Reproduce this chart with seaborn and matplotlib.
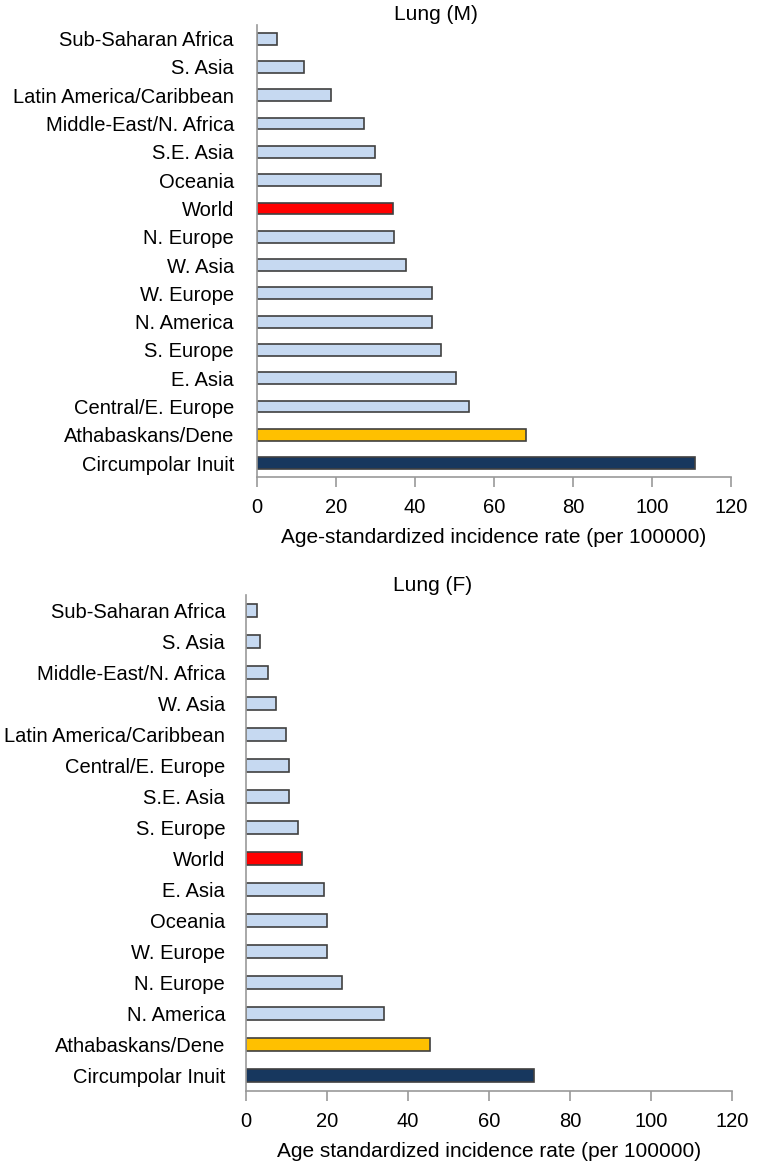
"""Lung cancer incidence by region, male and female panels."""

import matplotlib
import pandas as pd
import seaborn as sns

matplotlib.use("Agg")
import matplotlib.pyplot as plt

# Male panel (top to bottom)
male_regions = [
    "Sub-Saharan Africa", "S. Asia", "Latin America/Caribbean",
    "Middle-East/N. Africa", "S.E. Asia", "Oceania", "World", "N. Europe",
    "W. Asia", "W. Europe", "N. America", "S. Europe", "E. Asia",
    "Central/E. Europe", "Athabaskans/Dene", "Circumpolar Inuit",
]
male_rates = [5.0, 11.9, 18.8, 27.2, 29.8, 31.5, 34.4, 34.7,
              37.8, 44.2, 44.2, 46.5, 50.5, 53.7, 68.2, 110.9]

# Female panel (top to bottom)
female_regions = [
    "Sub-Saharan Africa", "S. Asia", "Middle-East/N. Africa", "W. Asia",
    "Latin America/Caribbean", "Central/E. Europe", "S.E. Asia", "S. Europe",
    "World", "E. Asia", "Oceania", "W. Europe", "N. Europe", "N. America",
    "Athabaskans/Dene", "Circumpolar Inuit",
]
female_rates = [2.6, 3.5, 5.4, 7.3, 9.9, 10.7, 10.7, 12.9,
                13.8, 19.3, 20.1, 20.1, 23.7, 34.0, 45.5, 71.2]

x_ticks = [0, 20, 40, 60, 80, 100, 120]

BASE = "#c6d9f1"
HIGHLIGHT = {"World": "#ff0000", "Athabaskans/Dene": "#ffc000",
             "Circumpolar Inuit": "#17375e"}


def palette_for(regions):
    return {r: HIGHLIGHT.get(r, BASE) for r in regions}


sns.set_theme(style="white")
plt.rcParams["font.family"] = ["Liberation Sans", "DejaVu Sans"]
plt.rcParams["text.color"] = "black"
plt.rcParams["axes.labelcolor"] = "black"
plt.rcParams["xtick.color"] = "black"
plt.rcParams["ytick.color"] = "black"

fig = plt.figure(figsize=(7.6, 11.67), dpi=100)
ax_m = fig.add_axes([0.338, 0.591, 0.624, 0.388])
ax_f = fig.add_axes([0.3237, 0.0651, 0.6391, 0.425])

panels = [
    (ax_m, male_regions, male_rates, "Lung (M)", 0.378, 10.5,
     "Age-standardized incidence rate (per 100000)"),
    (ax_f, female_regions, female_rates, "Lung (F)", 0.385, 9,
     "Age standardized incidence rate (per 100000)"),
]

for ax, regions, rates, title, title_x, ypad, xlabel in panels:
    df = pd.DataFrame({"region": regions, "rate": rates})
    sns.barplot(data=df, x="rate", y="region", hue="region", order=regions,
                palette=palette_for(regions), orient="h", width=0.42,
                saturation=1, edgecolor="#404040", linewidth=1.2,
                legend=False, ax=ax)
    ax.set_xlim(0, 120)
    ax.set_ylim(len(regions) - 0.5, -0.5)
    ax.set_xticks(x_ticks)
    ax.set_title(title, fontsize=15, pad=3, x=title_x)
    ax.set_xlabel(xlabel, fontsize=15, labelpad=8)
    ax.set_ylabel("")
    for side in ("top", "right"):
        ax.spines[side].set_visible(False)
    for side in ("left", "bottom"):
        ax.spines[side].set_color("#999999")
        ax.spines[side].set_linewidth(1.2)
    ax.tick_params(axis="x", bottom=True, length=7, width=1.2,
                   color="#999999", labelcolor="black", labelsize=14.5, pad=8)
    ax.tick_params(axis="y", left=False, labelcolor="black", labelsize=14.5,
                   pad=ypad)

fig.savefig("out.png", dpi=100)
plt.close(fig)
